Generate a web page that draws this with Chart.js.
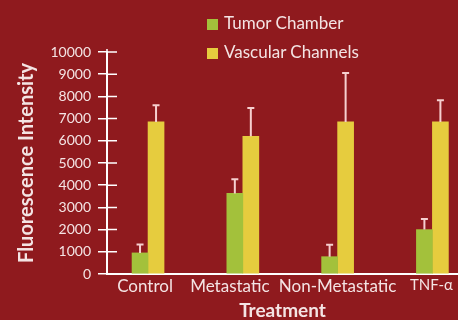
<!DOCTYPE html>
<html lang="en">
<head>
    <meta charset="UTF-8">
    <title>Fluorescence Intensity by Treatment</title>
    <script src="https://cdn.jsdelivr.net/npm/chart.js"></script>
    <style>
        html, body {
            margin: 0;
            padding: 0;
            background: #8f1a1e;
        }
        #wrap {
            position: relative;
            width: 458px;
            height: 320px;
        }
        #legend {
            position: absolute;
            left: 207px;
            top: 11px;
            font-family: Lato, sans-serif;
            font-size: 17px;
            color: #f4e4e4;
        }
        #legend div {
            height: 29px;
            line-height: 23px;
            white-space: nowrap;
        }
        #legend span {
            display: inline-block;
            width: 11px;
            height: 11px;
            margin-right: 6px;
            vertical-align: -1px;
        }
    </style>
</head>
<body>

<div id="wrap">
    <canvas id="intensityChart" width="458" height="320"></canvas>
    <div id="legend"></div>
</div>

<script>
    // chart values
    const categories = ['Control', 'Metastatic', 'Non-Metastatic', 'TNF-\u03b1'];
    const tumorChamber = [950, 3630, 780, 2000];
    const tumorErr = [380, 640, 540, 480];
    const vascularChannels = [6850, 6200, 6850, 6850];
    const vascularErr = [750, 1280, 2200, 980];
    const yTicks = [0, 1000, 2000, 3000, 4000, 5000, 6000, 7000, 8000, 9000, 10000];

    const textColor = '#f4e4e4';
    const errColor = '#f6cfcf';
    // the original's category labels sit a little off their bars
    const labelNudge = [-3, -13, 0, -1];

    // error bars drawn from the bar elements and the y scale
    const errorBars = {
        id: 'errorBars',
        afterDatasetsDraw(chart) {
            const ctx = chart.ctx;
            const y = chart.scales.y;
            ctx.save();
            ctx.strokeStyle = errColor;
            ctx.lineWidth = 2;
            chart.data.datasets.forEach((ds, di) => {
                const meta = chart.getDatasetMeta(di);
                meta.data.forEach((bar, i) => {
                    const top = y.getPixelForValue(ds.data[i].y + ds.errors[i]);
                    ctx.beginPath();
                    ctx.moveTo(bar.x, bar.y);
                    ctx.lineTo(bar.x, top);
                    ctx.moveTo(bar.x - 3.5, top);
                    ctx.lineTo(bar.x + 3.5, top);
                    ctx.stroke();
                });
            });
            ctx.restore();
        }
    };

    // tick marks crossing into the plot, like the original
    const innerTicks = {
        id: 'innerTicks',
        beforeDraw(chart) {
            const items = chart.scales.x.getLabelItems();
            if (!items.nudged) {
                items.forEach((it, i) => { it.options.translation[0] += labelNudge[i] || 0; });
                items.nudged = true;
            }
        },
        afterDraw(chart) {
            const ctx = chart.ctx;
            const y = chart.scales.y;
            const left = chart.chartArea.left;
            ctx.save();
            ctx.strokeStyle = '#ffffff';
            ctx.lineWidth = 1.5;
            ctx.beginPath();
            y.ticks.forEach(t => {
                const py = y.getPixelForValue(t.value);
                ctx.moveTo(left, py);
                ctx.lineTo(left + 10, py);
            });
            ctx.moveTo(left, chart.chartArea.top);
            ctx.lineTo(left, chart.chartArea.top - 3);
            ctx.stroke();
            ctx.restore();
        }
    };

    const toPoints = vals => vals.map((v, i) => ({ x: i, y: v }));

    const ctx = document.getElementById('intensityChart').getContext('2d');
    const chart = new Chart(ctx, {
        type: 'bar',
        data: {
            datasets: [
                {
                    label: 'Tumor Chamber',
                    data: toPoints(tumorChamber),
                    errors: tumorErr,
                    backgroundColor: '#a3c13b'
                },
                {
                    label: 'Vascular Channels',
                    data: toPoints(vascularChannels),
                    errors: vascularErr,
                    backgroundColor: '#e6cc3e'
                }
            ]
        },
        options: {
            responsive: false,
            animation: false,
            barThickness: 16,
            layout: {
                padding: { top: 52, right: 0, left: 0, bottom: 0 }
            },
            plugins: {
                legend: { display: false },
                tooltip: { enabled: false }
            },
            scales: {
                x: {
                    type: 'linear',
                    offset: false,
                    min: -0.433,
                    max: 3.27,
                    afterBuildTicks: scale => {
                        scale.ticks = categories.map((c, i) => ({ value: i }));
                    },
                    afterFit: scale => { scale.height = 46; },
                    grid: { display: false, drawTicks: false },
                    border: { display: true, color: '#ffffff', width: 2 },
                    ticks: {
                        color: textColor,
                        padding: 2,
                        autoSkip: false,
                        maxRotation: 0,
                        font: c => ({
                            family: 'Lato',
                            size: c.index === 3 ? 15 : 17
                        }),
                        callback: v => categories[v]
                    },
                    title: {
                        display: true,
                        text: 'Treatment',
                        color: textColor,
                        font: { family: 'Lato', size: 19, weight: 'bold', lineHeight: 1 },
                        padding: 0
                    }
                },
                y: {
                    min: 0,
                    max: 10000,
                    afterBuildTicks: scale => {
                        scale.ticks = yTicks.map(v => ({ value: v }));
                    },
                    afterFit: scale => { scale.width = 107; },
                    grid: {
                        drawOnChartArea: false,
                        tickLength: 9,
                        color: '#ffffff',
                        lineWidth: 1.5
                    },
                    border: { display: true, color: '#ffffff', width: 2 },
                    ticks: {
                        color: textColor,
                        padding: 7,
                        font: { family: 'Lato', size: 14 },
                        callback: v => String(v)
                    },
                    title: {
                        display: true,
                        text: 'Fluorescence Intensity',
                        color: textColor,
                        font: { family: 'Lato', size: 20, weight: 'bold', lineHeight: 1.2 },
                        padding: { top: 15, bottom: 0 }
                    }
                }
            }
        },
        plugins: [errorBars, innerTicks]
    });

    // legend built from the datasets
    const legend = document.getElementById('legend');
    chart.data.datasets.forEach(ds => {
        const row = document.createElement('div');
        const box = document.createElement('span');
        box.style.background = ds.backgroundColor;
        row.appendChild(box);
        row.appendChild(document.createTextNode(ds.label));
        legend.appendChild(row);
    });
</script>

</body>
</html>
